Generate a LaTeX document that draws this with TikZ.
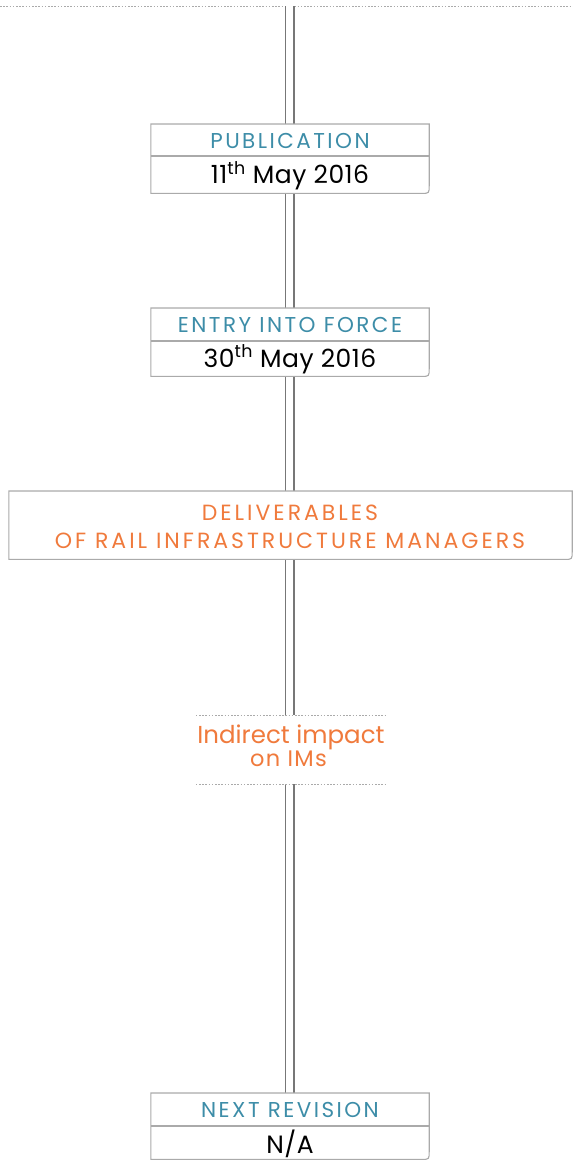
\documentclass[tikz,border=0pt]{standalone}
\usepackage{fontspec}
\setmainfont{Poppins}
\newfontfamily\capsfont[LetterSpace=11.4]{Poppins}
\newfontfamily\widecapsfont[LetterSpace=13.6]{Poppins}
\newfontfamily\datefont[LetterSpace=2]{Poppins}
\newfontfamily\smallfont[LetterSpace=6]{Poppins}
\definecolor{teal}{HTML}{3D8DA8}
\definecolor{orng}{HTML}{F07A3C}
\definecolor{boxgray}{HTML}{AAAAAA}
\definecolor{linegray}{HTML}{777777}
\definecolor{dotgray}{HTML}{AAAAAA}
\tikzset{
  boxline/.style={draw=boxgray, line width=1.1pt, fill=white},
  divline/.style={draw=boxgray, line width=1.1pt},
  tline/.style={draw=linegray, line width=1.2pt, double=white, double distance=7.6pt},
  dotline/.style={draw=dotgray, line width=0.9pt, dash pattern=on 1.6pt off 1.6pt},
  area/.style={inner sep=0pt, minimum width=#1, anchor=north},
  ttl/.style={inner sep=0pt, anchor=base, font=\capsfont\fontsize{21.5}{23}\selectfont, text=teal},
  dttl/.style={inner sep=0pt, anchor=base, font=\widecapsfont\fontsize{22}{24}\selectfont, text=orng},
  dte/.style={inner sep=0pt, anchor=base, font=\datefont\fontsize{25}{27}\selectfont, text=black},
}
\newcommand{\boxoutline}[1]{%
  \draw[boxline] (#1.north west) -- (#1.north east) -- ([yshift=8pt]#1.south east)
    .. controls (#1.south east) .. ([xshift=-8pt]#1.south east) -- (#1.south west) -- cycle;}
\begin{document}
\begin{tikzpicture}[x=1pt,y=-1pt]
\useasboundingbox (0,0) rectangle (573,1160);
% top dotted line
\coordinate (tl) at (0,6);
\coordinate (tr) at (573,6);
\coordinate (top) at (289.5,6);
\draw[dotline] (tl) -- (tr);
% boxes (areas)
\node[area=278pt, minimum height=69pt] (pub) at (290,124) {};
\node[area=278pt, minimum height=68pt] (ent) at (290,308) {};
\node[area=563pt, minimum height=68pt] (del) at (290.5,491) {};
\node[area=190pt, minimum height=69pt] (imp) at (291,715) {};
\node[area=278pt, minimum height=66pt] (nxt) at (290,1093) {};
% timeline
\draw[tline] (top) -- (top |- nxt.north);
% outlines
\boxoutline{pub}
\boxoutline{ent}
\boxoutline{del}
\boxoutline{nxt}
\fill[white] (imp.north west) rectangle (imp.south east);
\draw[dotline] (imp.north west) -- (imp.north east);
\draw[dotline] (imp.south west) -- (imp.south east);
% dividers
\coordinate (pubd) at (290,156);
\draw[divline] (pub.west |- pubd) -- (pub.east |- pubd);
\coordinate (entd) at (290,341);
\draw[divline] (ent.west |- entd) -- (ent.east |- entd);
\coordinate (nxtd) at (290,1126);
\draw[divline] (nxt.west |- nxtd) -- (nxt.east |- nxtd);
% texts
\node[ttl] (pubt) at (290,148.3) {PUBLICATION};
\node[dte] (pubdate) at (290,183.3) {11\textsuperscript{th} May 2016};
\node[ttl] (entt) at (290,332.3) {ENTRY INTO FORCE};
\node[dte] (entdate) at (290,367) {30\textsuperscript{th} May 2016};
\node[dttl] (delt1) at (290,520) {DELIVERABLES};
\node[dttl] (delt2) at (290,548) {OF RAIL INFRASTRUCTURE MANAGERS};
\node[inner sep=0pt, anchor=base, font=\fontsize{24.5}{26}\selectfont, text=orng] (impt1) at (291,743.3) {Indirect impact};
\node[inner sep=0pt, anchor=base, font=\smallfont\fontsize{22.5}{24}\selectfont, text=orng] (impt2) at (288.5,766.7) {on IMs};
\node[ttl] (nxtt) at (290,1117.7) {NEXT REVISION};
\node[dte] (nxtval) at (290,1153.5) {N/A};
\end{tikzpicture}
\end{document}
